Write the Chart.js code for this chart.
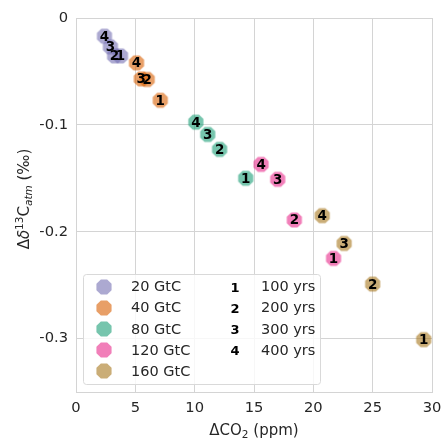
<!DOCTYPE html>
<html>
<head>
<meta charset="utf-8">
<script src="https://cdn.jsdelivr.net/npm/chart.js@4"></script>
<style>
  html, body { margin: 0; padding: 0; background: #fff; }
  #wrap { width: 442px; height: 439px; position: relative; }
</style>
</head>
<body>
<div id="wrap"><canvas id="c"></canvas></div>
<script>
/* dCO2 vs d13C scatter, 5 emission pulses x 4 time horizons */

const groups = ["20 GtC", "40 GtC", "80 GtC", "120 GtC", "160 GtC"];
const periods = ["100 yrs", "200 yrs", "300 yrs", "400 yrs"];
const periodMarks = ["1", "2", "3", "4"];

// values ordered 100, 200, 300, 400 yrs
const dco2_20 = [3.75, 3.25, 2.9, 2.4];
const d13c_20 = [-0.0355, -0.0355, -0.027, -0.017];
const dco2_40 = [7.1, 6.0, 5.5, 5.1];
const d13c_40 = [-0.077, -0.0575, -0.057, -0.042];
const dco2_80 = [14.3, 12.1, 11.1, 10.1];
const d13c_80 = [-0.150, -0.123, -0.109, -0.0975];
const dco2_120 = [21.7, 18.4, 17.0, 15.6];
const d13c_120 = [-0.225, -0.189, -0.151, -0.137];
const dco2_160 = [29.3, 25.0, 22.6, 20.75];
const d13c_160 = [-0.301, -0.249, -0.211, -0.185];

const xTicks = [0, 5, 10, 15, 20, 25, 30];
const yTicks = [0, -0.1, -0.2, -0.3];
const yTickLabels = ["0", "-0.1", "-0.2", "-0.3"];

const groupColors = ["117,112,179", "217,95,2", "27,158,119", "231,41,138", "166,118,29"];
const xsAll = [dco2_20, dco2_40, dco2_80, dco2_120, dco2_160];
const ysAll = [d13c_20, d13c_40, d13c_80, d13c_120, d13c_160];

const FONT = "'DejaVu Sans', sans-serif";
const TEXT = "#262626";
const GRID = "#d4d4d4";

function octagon(color, r) {
  const c = document.createElement("canvas");
  const s = 18;
  c.width = c.height = s;
  const g = c.getContext("2d");
  g.fillStyle = color;
  g.beginPath();
  for (let i = 0; i < 8; i++) {
    const a = Math.PI / 8 + (i * Math.PI) / 4;
    g.lineTo(s / 2 + r * Math.cos(a), s / 2 + r * Math.sin(a));
  }
  g.closePath();
  g.fill();
  return c;
}

const datasets = groups.map((name, gi) => ({
  label: name,
  data: xsAll[gi].map((x, i) => ({ x, y: ysAll[gi][i] })),
  pointStyle: octagon(`rgba(${groupColors[gi]},0.6)`, 8.2),
  pointRadius: 8,
  showLine: false,
}));

// numbers on top of markers
const markLabels = {
  id: "markLabels",
  afterDatasetsDraw(chart) {
    const ctx = chart.ctx;
    ctx.save();
    ctx.font = `bold 13.5px ${FONT}`;
    ctx.fillStyle = "#000";
    ctx.textAlign = "center";
    ctx.textBaseline = "middle";
    chart.data.datasets.forEach((ds, di) => {
      chart.getDatasetMeta(di).data.forEach((pt, i) => {
        ctx.fillText(periodMarks[i], pt.x, pt.y + 1);
      });
    });
    ctx.restore();
  },
};

// two-column legend + axis titles
const extras = {
  id: "extras",
  afterDraw(chart) {
    const ctx = chart.ctx;
    const area = chart.chartArea;
    ctx.save();

    // legend box
    ctx.fillStyle = "rgba(255,255,255,0.8)";
    ctx.strokeStyle = "#d9d9d9";
    ctx.lineWidth = 1;
    ctx.beginPath();
    ctx.roundRect(83.5, 274.5, 237, 110, 3);
    ctx.fill();
    ctx.stroke();

    const row0 = 286.5, step = 21.2;
    ctx.textBaseline = "middle";
    groups.forEach((g, i) => {
      const y = row0 + i * step;
      const img = chart.data.datasets[i].pointStyle;
      ctx.drawImage(img, 104 - 9, Math.round(y) - 9);
      ctx.font = `14.5px ${FONT}`;
      ctx.fillStyle = TEXT;
      ctx.textAlign = "left";
      ctx.fillText(g, 131, y + 1);
    });
    periods.forEach((p, i) => {
      const y = row0 + i * step;
      ctx.font = `bold 13px ${FONT}`;
      ctx.fillStyle = "#000";
      ctx.textAlign = "center";
      ctx.fillText(periodMarks[i], 235, y + 2);
      ctx.font = `14.5px ${FONT}`;
      ctx.fillStyle = TEXT;
      ctx.textAlign = "left";
      ctx.fillText(p, 261, y + 1);
    });

    // x title: ΔCO2 (ppm)
    ctx.fillStyle = TEXT;
    ctx.textAlign = "left";
    ctx.textBaseline = "alphabetic";
    const big = `15px ${FONT}`, small = `10.5px ${FONT}`;
    ctx.font = big;
    const w1 = ctx.measureText("ΔCO").width;
    const w3 = ctx.measureText(" (ppm)").width;
    ctx.font = small;
    const w2 = ctx.measureText("2").width;
    let x = (area.left + area.right) / 2 - (w1 + w2 + w3) / 2;
    const by = 435;
    ctx.font = big; ctx.fillText("ΔCO", x, by); x += w1;
    ctx.font = small; ctx.fillText("2", x, by + 3); x += w2;
    ctx.font = big; ctx.fillText(" (ppm)", x, by);

    // y title: Δδ13C_atm (‰)
    const segs = [
      { t: "Δ", f: big, dy: 0 },
      { t: "δ", f: `italic 15px ${FONT}`, dy: 0 },
      { t: "13", f: small, dy: -6 },
      { t: "C", f: big, dy: 0 },
      { t: "atm", f: `italic 10.5px ${FONT}`, dy: 3 },
      { t: " (‰)", f: big, dy: 0 },
    ];
    let total = 0;
    segs.forEach((s) => { ctx.font = s.f; s.w = ctx.measureText(s.t).width; total += s.w; });
    ctx.translate(29, 199);
    ctx.rotate(-Math.PI / 2);
    let sx = -total / 2;
    segs.forEach((s) => {
      ctx.font = s.f;
      ctx.fillText(s.t, sx, s.dy);
      sx += s.w;
    });
    ctx.restore();
  },
};

new Chart(document.getElementById("c"), {
  type: "scatter",
  data: { datasets },
  options: {
    responsive: true,
    maintainAspectRatio: false,
    animation: false,
    events: [],
    layout: { padding: { top: 18, right: 0, left: 0, bottom: 0 } },
    plugins: { legend: { display: false }, tooltip: { enabled: false } },
    scales: {
      x: {
        type: "linear",
        min: 0,
        max: 30,
        afterBuildTicks: (scale) => { scale.ticks = xTicks.map((v) => ({ value: v })); },
        afterFit: (scale) => {
          scale.height = 47;
          scale.paddingLeft = 0;
          scale.paddingRight = 10;
        },
        grid: { color: GRID, drawTicks: false },
        border: { color: GRID },
        ticks: { color: TEXT, font: { family: FONT, size: 14.7 }, padding: 7, maxRotation: 0 },
      },
      y: {
        type: "linear",
        min: -0.35,
        max: 0,
        afterBuildTicks: (scale) => { scale.ticks = yTicks.map((v) => ({ value: v })); },
        afterFit: (scale) => { scale.width = 76; },
        grid: { color: GRID, drawTicks: false },
        border: { color: GRID },
        ticks: {
          color: TEXT,
          font: { family: FONT, size: 14.7 },
          padding: 8,
          callback: (v, i) => yTickLabels[i],
        },
      },
    },
  },
  plugins: [markLabels, extras],
});
</script>
</body>
</html>
